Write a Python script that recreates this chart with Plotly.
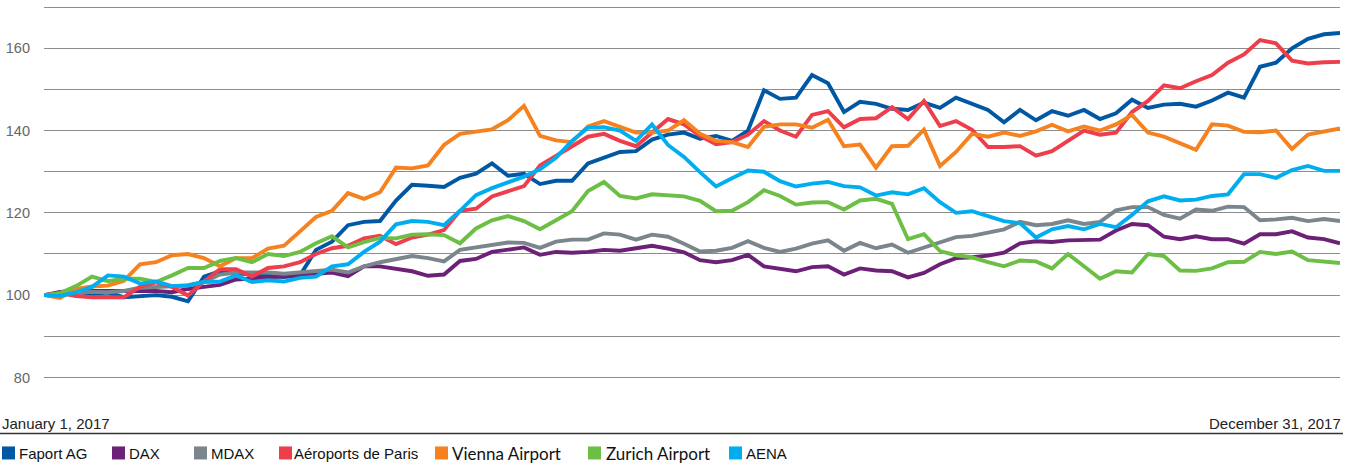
import plotly.graph_objects as go
import pandas as pd

# ---- data (index, Jan 1 2017 = 100) ----
dates = pd.date_range("2017-01-01", "2017-12-31", periods=82)

series_names = ["Faport AG", "DAX", "MDAX", "Aéroports de Paris",
                "Vienna Airport", "Zurich Airport", "AENA"]
series_colors = ["#0057A4", "#6D2077", "#7A858C", "#EE3D4B",
                 "#F5821F", "#6CBE45", "#00AEEF"]

fraport = [100, 100.5, 100.8, 100.3, 100.6, 99.5, 99.8, 100, 99.6, 98.5,
           104.5, 105.8, 105.3, 105, 104.8, 104.4, 104.8, 111, 113, 117,
           117.8, 118, 123, 126.8, 126.6, 126.3, 128.5, 129.5, 132, 129,
           129.5, 127, 127.8, 127.8, 132, 133.5, 134.8, 135, 137.8, 139,
           139.5, 138, 138.7, 137.5, 140, 149.8, 147.7, 148, 153.5, 151.5,
           144.5, 147, 146.5, 145.3, 145, 146.8, 145.5, 148, 146.5, 145,
           142, 145, 142.5, 144.7, 143.6, 145, 142.8, 144.2, 147.5, 145.5,
           146.3, 146.5, 145.8, 147.3, 149.2, 148, 155.5, 156.5, 160, 162.3,
           163.4, 163.7]

dax = [100, 100.8, 101, 101, 101.2, 101, 101, 101, 100.7, 101.5,
       102, 102.5, 103.8, 104, 104.3, 104.6, 104.8, 105.2, 105.5, 104.6,
       107, 107, 106.3, 105.8, 104.7, 105, 108.3, 108.8, 110.5, 111,
       111.6, 109.8, 110.5, 110.3, 110.5, 111, 110.8, 111.4, 112, 111.3,
       110.4, 108.5, 108, 108.5, 109.8, 107, 106.5, 105.8, 106.8, 107,
       105, 106.5, 106, 105.8, 104.3, 105.4, 107.5, 109, 109.2, 109.6,
       110.3, 112.6, 113.1, 112.9, 113.3, 113.5, 113.5, 115.7, 117.3, 117,
       114.2, 113.6, 114.3, 113.6, 113.6, 112.5, 114.8, 114.8, 115.5, 114,
       113.6, 112.6]

mdax = [100, 100.3, 100.7, 100.8, 100.7, 101, 101.8, 102, 102, 102.3,
        103.2, 105, 105.5, 105.5, 105.5, 105.2, 105.5, 105.9, 106.2, 105.5,
        107, 108, 108.8, 109.5, 109, 108.2, 111, 111.6, 112, 112.8,
        112.7, 111.5, 113, 113.5, 113.5, 115, 114.7, 113.5, 114.7, 114.2,
        112.5, 110.6, 110.8, 111.5, 113.1, 111.5, 110.5, 111.3, 112.5, 113.3,
        110.8, 112.7, 111.4, 112.3, 110.3, 111.5, 112.8, 114.1, 114.4, 115.2,
        116, 117.8, 117, 117.3, 118.2, 117.3, 117.8, 120.6, 121.4, 121.4,
        119.5, 118.6, 120.8, 120.5, 121.5, 121.4, 118.2, 118.4, 118.8, 118,
        118.5, 118]

adp = [100, 100.5, 99.8, 99.5, 99.5, 99.5, 102, 103.1, 102, 99.9,
       103.3, 106.3, 106.3, 104.5, 106.6, 107, 108, 110, 111.4, 112,
       113.8, 114.4, 112.4, 114, 114.7, 115.8, 120.5, 121, 124, 125.3,
       126.5, 131.5, 133.8, 136, 138.5, 139.2, 137.5, 136.2, 139.5, 142.8,
       141.5, 138.7, 136.7, 137.2, 139, 142.3, 140, 138.5, 143.8, 144.7,
       140.8, 142.8, 143, 145.7, 142.8, 147.2, 141.1, 142.3, 140.2, 136,
       136, 136.2, 133.9, 135, 137.5, 140, 139, 139.5, 144.5, 147.2,
       151, 150.3, 152, 153.5, 156.5, 158.5, 162, 161.2, 157, 156.3,
       156.6, 156.7]

vienna = [100, 99.3, 101.5, 102.1, 102.3, 103.5, 107.5, 108, 109.7, 110,
          109, 107, 109, 109, 111.3, 112, 115.5, 119, 120.5, 124.8,
          123.4, 125, 131, 130.8, 131.5, 136.5, 139.2, 139.8, 140.3, 142.5,
          146, 138.7, 137.6, 137.2, 141, 142.3, 141, 139.5, 139.5, 140,
          142.5, 139.2, 137.5, 137.2, 136, 140.9, 141.5, 141.5, 140.7, 142.6,
          136.2, 136.6, 131, 136.2, 136.3, 140.2, 131.4, 134.8, 139.2, 138.5,
          139.5, 138.7, 139.8, 141.4, 139.8, 141, 140, 141.5, 143.8, 139.5,
          138.5, 137, 135.3, 141.5, 141.2, 139.7, 139.6, 140, 135.5, 139,
          139.8, 140.5]

zurich = [100, 100.5, 102.2, 104.5, 103.4, 104, 104, 103.2, 104.8, 106.6,
          106.6, 108.3, 109, 108, 110, 109.5, 110.5, 112.6, 114.3, 111.6,
          112.9, 113.9, 113.8, 114.7, 114.8, 114.6, 112.6, 116.2, 118.2, 119.2,
          118, 116, 118.2, 120.4, 125.3, 127.5, 124.1, 123.5, 124.5, 124.2,
          124, 122.9, 120.4, 120.5, 122.6, 125.5, 124.1, 122, 122.5, 122.6,
          120.8, 123, 123.4, 122.2, 113.6, 114.8, 110.7, 109.7, 109.2, 108,
          107, 108.4, 108.2, 106.5, 110, 107, 104, 105.8, 105.5, 110,
          109.5, 106, 105.9, 106.5, 108, 108.1, 110.5, 110, 110.6, 108.5,
          108.2, 107.8]

aena = [100, 99.8, 100.7, 102, 104.8, 104.5, 102.8, 103.3, 102.2, 102.4,
        103.2, 103.3, 104.8, 103.2, 103.6, 103.3, 104.2, 104.5, 107, 107.5,
        110.5, 113, 117.2, 118, 117.8, 117, 120.5, 124.3, 126, 127.3,
        128.8, 130.6, 133.4, 137.5, 140.7, 140.8, 140, 137.5, 141.5, 136.5,
        133.6, 129.9, 126.4, 128.4, 130.3, 130, 127.7, 126.4, 127.1, 127.5,
        126.5, 126.2, 124.2, 125, 124.5, 126, 122.6, 120, 120.4, 119.2,
        118, 117.5, 114, 116, 116.8, 116, 117.3, 116.5, 119.5, 122.8,
        124, 123, 123.2, 124.1, 124.5, 129.4, 129.4, 128.5, 130.4, 131.4,
        130.2, 130.2]

series_values = [fraport, dax, mdax, adp, vienna, zurich, aena]
y_tick_values = [80, 100, 120, 140, 160]
start_label = "January 1, 2017"
end_label = "December 31, 2017"

# ---- layout geometry (pixels) ----
W, H = 1353, 466
ML, MR, MT, MB = 44, 13, 3, 68.4
PW = W - ML - MR
PH = H - MT - MB


def px(x):
    return (x - ML) / PW


def py(y):
    return (H - MB - y) / PH


fig = go.Figure()
for name, vals, col in zip(series_names, series_values, series_colors):
    fig.add_trace(go.Scatter(x=dates, y=vals, mode="lines", name=name,
                             line=dict(color=col, width=3.9),
                             showlegend=False))

base_font = "Arial, Liberation Sans, sans-serif"
alt_font = "Lato, Open Sans, sans-serif"

fig.update_layout(
    width=W, height=H,
    margin=dict(l=ML, r=MR, t=MT, b=MB),
    paper_bgcolor="white", plot_bgcolor="white",
    xaxis=dict(range=[pd.Timestamp("2017-01-01"), pd.Timestamp("2017-12-31")],
               showgrid=False, showticklabels=False, zeroline=False,
               showline=False, ticks=""),
    yaxis=dict(range=[75, 171], tickvals=y_tick_values,
               showgrid=True, gridcolor="#8C8C8C", gridwidth=1,
               zeroline=False, showline=False, ticks="",
               ticklabelstandoff=13,
               tickfont=dict(family=base_font, size=14.5, color="#666666"),
               minor=dict(dtick=10, tick0=0, showgrid=True,
                          gridcolor="#8C8C8C", gridwidth=1)),
)

annotations = [
    dict(text=start_label, x=px(0), y=py(423), xanchor="left", yanchor="middle"),
    dict(text=end_label, x=px(1343), y=py(423), xanchor="right", yanchor="middle"),
]
for a in annotations:
    a.update(xref="paper", yref="paper", showarrow=False,
             font=dict(family=base_font, size=15, color="#222222"))

shapes = [dict(type="line", xref="paper", yref="paper",
               x0=px(0), x1=px(1343), y0=py(433), y1=py(433),
               line=dict(color="#333333", width=1.5))]

legend_sq_x = [2, 112, 194, 279, 435, 588, 729]
legend_txt_x = [17, 127, 209, 292, 450, 604, 744]
legend_fonts = [base_font, base_font, base_font, base_font,
                alt_font, alt_font, base_font]
legend_sizes = [15, 15, 15, 15, 17, 17, 15]
for name, col, sx, tx, ff, fs in zip(series_names, series_colors, legend_sq_x,
                                     legend_txt_x, legend_fonts, legend_sizes):
    shapes.append(dict(type="rect", xref="paper", yref="paper",
                       x0=px(sx), x1=px(sx + 13), y0=py(459), y1=py(446),
                       fillcolor=col, line=dict(width=0)))
    annotations.append(dict(text=name, x=px(tx), y=py(453), xref="paper",
                            yref="paper", xanchor="left", yanchor="middle",
                            showarrow=False,
                            font=dict(family=ff, size=fs, color="#111111")))

fig.update_layout(annotations=annotations, shapes=shapes)
fig.write_html("out.html",
               config={"displayModeBar": False},
               post_script="document.body.style.margin='0';"
                           "document.body.style.overflow='hidden';")
